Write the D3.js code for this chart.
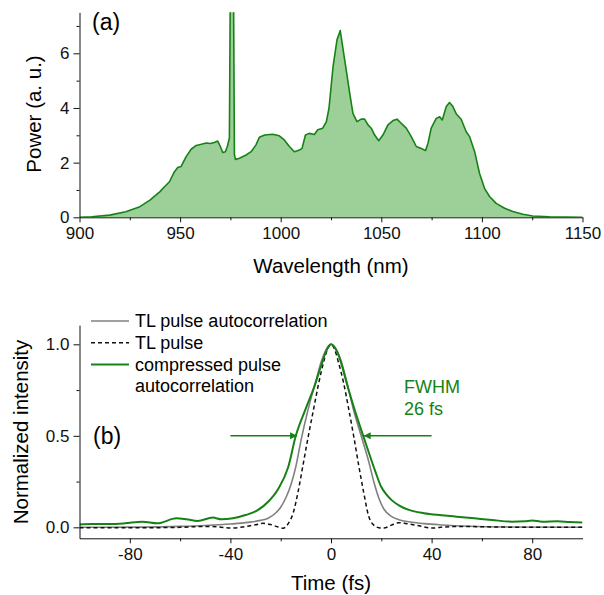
<!DOCTYPE html>
<html>
<head>
<meta charset="utf-8">
<script src="https://cdn.jsdelivr.net/npm/d3@7"></script>
<style>
  body { margin: 0; background: #fff; }
  svg { font-family: "Liberation Sans", Arial, sans-serif; }
</style>
</head>
<body>
<script>
const WIDTH = 604;
const HEIGHT = 595;
const GREEN = "#168216";
const FILL = "#9dcf98";

// panel (a): spectrum
const wavelength = [900, 906, 915, 923, 930, 935, 940, 942, 944.7, 947.2, 948.8, 950.5, 953, 955.5, 958, 961, 963, 965, 967, 968.7,
  970, 971.2, 972.5, 973.5, 974.5, 975, 976.5, 977, 977.5, 979.5, 982.8, 985.3, 987.7, 989.4, 992, 996, 999.3, 1001.8, 1004.3,
  1006.8, 1009.3, 1010.6, 1012.3, 1014.2, 1016.7, 1018.4, 1020.9, 1022.7, 1024, 1026, 1028, 1029.6, 1031.8, 1034.3, 1035.9,
  1037.9, 1040, 1041.7, 1043.4, 1045, 1046.7, 1048.7, 1050.8, 1053.3, 1055.8, 1057.8, 1059.9, 1062.4, 1064.9, 1067.4, 1069.9,
  1072, 1073.2, 1074.8, 1077.3, 1079, 1080.3, 1082.3, 1083.9, 1085.6, 1087.3, 1089.7, 1092.2, 1093.9, 1096.4, 1098.8, 1101.3,
  1103.8, 1107.1, 1111.3, 1115.4, 1120.4, 1125.3, 1133.6, 1150];
const power = [0, 0.02, 0.08, 0.2, 0.39, 0.63, 0.94, 1.1, 1.3, 1.67, 1.82, 1.86, 2.22, 2.49, 2.63, 2.68, 2.72, 2.7, 2.74, 2.79,
  2.59, 2.37, 2.4, 2.6, 2.9, 9, 9, 2.3, 2.12, 2.16, 2.28, 2.4, 2.65, 2.93, 3.01, 3.04, 2.98, 2.83, 2.59,
  2.4, 2.46, 2.52, 3.01, 3.07, 3.03, 3.2, 3.26, 3.5, 3.99, 5.5, 6.5, 6.83, 5.76, 4.54, 3.8,
  3.5, 3.59, 3.59, 3.38, 3.26, 3.01, 2.8, 3.01, 3.38, 3.54, 3.59, 3.44, 3.26, 2.95, 2.59, 2.52,
  2.44, 2.71, 3.26, 3.62, 3.68, 3.56, 4.05, 4.2, 4.05, 3.78, 3.59, 3.13, 2.95, 2.4, 1.61, 1.06,
  0.76, 0.51, 0.33, 0.21, 0.11, 0.05, 0.02, 0];
const wlTicks = [900, 950, 1000, 1050, 1100, 1150];
const powerTicks = [0, 2, 4, 6];

// panel (b): autocorrelations
const timeTL = [-100, -80, -60, -50, -45, -40, -35, -30, -27, -24, -21, -19, -17, -15, -13, -11, -9, -7, -5, -3, -1.5, 0,
  1.5, 3, 5, 7, 9, 11, 13, 15, 17, 19, 21, 24, 27, 30, 35, 40, 45, 50, 60, 80, 100];
const tlPulse = [-0.003, -0.003, 0, 0.005, 0.003, -0.004, 0.002, 0.014, 0.022, 0.015, 0.002, -0.005, 0.02, 0.08, 0.2, 0.35, 0.5, 0.64, 0.78, 0.9, 0.97, 1,
  0.97, 0.9, 0.79, 0.65, 0.5, 0.34, 0.19, 0.06, 0.012, -0.002, -0.004, 0.012, 0.025, 0.02, 0.008, -0.004, 0.002, 0.005, 0.003, 0, 0];
const timeAC = [-100, -80, -60, -50, -40, -33, -28, -25, -22, -20, -18, -16, -14, -12, -9, -6, -4, -2, 0,
  2, 4, 6, 9, 12, 15, 17, 19, 21, 24, 27, 31, 37, 44, 55, 70, 100];
const tlAutocorr = [0, 0.001, 0.005, 0.01, 0.018, 0.027, 0.038, 0.05, 0.078, 0.11, 0.16, 0.23, 0.33, 0.47, 0.65, 0.8, 0.9, 0.97, 1,
  0.975, 0.91, 0.81, 0.64, 0.5, 0.36, 0.25, 0.16, 0.1, 0.06, 0.042, 0.03, 0.02, 0.013, 0.006, 0.002, 0];
const timeComp = [-100, -95, -88, -82, -75, -69, -61.5, -57.5, -53, -47, -43.6, -39, -34, -29, -25, -21, -17, -14, -10, -6.6, -4, -2, 0,
  2, 4, 6, 9, 12.8, 15, 17.5, 20, 22, 24, 27, 31, 37, 44, 50, 57, 64, 72, 77, 80, 84, 90, 95, 100];
const compressed = [0.016, 0.018, 0.018, 0.022, 0.031, 0.022, 0.049, 0.044, 0.035, 0.053, 0.044, 0.049, 0.067, 0.095, 0.14, 0.21, 0.33, 0.5, 0.65, 0.77, 0.88, 0.96, 1,
  0.97, 0.9, 0.8, 0.66, 0.5, 0.41, 0.31, 0.22, 0.18, 0.15, 0.12, 0.095, 0.077, 0.066, 0.058, 0.049, 0.04, 0.031, 0.033, 0.037, 0.031, 0.033, 0.029, 0.027];
const timeTicks = [-80, -40, 0, 40, 80];
const intensityTicks = [0, 0.5, 1];

const svg = d3
  .select("body")
  .append("svg")
  .attr("width", WIDTH)
  .attr("height", HEIGHT);

const defs = svg.append("defs");
defs
  .append("marker")
  .attr("id", "arrow")
  .attr("viewBox", "0 0 10 10")
  .attr("refX", 10)
  .attr("refY", 5)
  .attr("markerWidth", 10)
  .attr("markerHeight", 7)
  .attr("markerUnits", "userSpaceOnUse")
  .attr("orient", "auto")
  .append("path")
  .attr("d", "M0,0L10,5L0,10Z")
  .attr("fill", GREEN);

function drawAxes(g, x, y, xTicks, xMinor, yTicks, yMinor, fmtY) {
  const [x0, x1] = x.range();
  const [y0, y1] = y.range();
  g.append("g")
    .attr("transform", "translate(0," + y0 + ")")
    .call(d3.axisBottom(x).tickValues(xMinor).tickSize(3).tickFormat(""))
    .call(a => a.select(".domain").remove());
  g.append("g")
    .attr("transform", "translate(" + x0 + ",0)")
    .call(d3.axisLeft(y).tickValues(yMinor).tickSize(3).tickFormat(""))
    .call(a => a.select(".domain").remove());
  g.append("g")
    .attr("class", "xAxis")
    .attr("transform", "translate(0," + y0 + ")")
    .call(d3.axisBottom(x).tickValues(xTicks).tickSize(5).tickSizeOuter(0).tickPadding(5).tickFormat(d => String(d)));
  g.append("g")
    .attr("class", "yAxis")
    .attr("transform", "translate(" + x0 + ",0)")
    .call(d3.axisLeft(y).tickValues(yTicks).tickSize(6).tickSizeOuter(0).tickPadding(4).tickFormat(fmtY));
  g.selectAll(".tick text").attr("font-size", 17).attr("fill", "#111").attr("font-family", null);
  g.selectAll(".domain, .tick line").attr("stroke", "#111");
}

// ---------- panel (a)
const xA = d3.scaleLinear().domain([900, 1150]).range([79.5, 582.5]);
const yA = d3.scaleLinear().domain([0, 7.5]).range([217.3, 12.3]);
const spec = wavelength.map((w, i) => [w, power[i]]);

defs
  .append("clipPath")
  .attr("id", "clipA")
  .append("rect")
  .attr("x", xA(900))
  .attr("y", yA(7.5))
  .attr("width", xA(1150) - xA(900))
  .attr("height", yA(0) - yA(7.5));

const gA = svg.append("g");
const plotA = gA.append("g").attr("clip-path", "url(#clipA)");
plotA
  .append("path")
  .datum(spec)
  .attr("fill", FILL)
  .attr("d", d3.area().x(d => xA(d[0])).y0(yA(0)).y1(d => yA(d[1])));
plotA
  .append("path")
  .datum(spec)
  .attr("fill", "none")
  .attr("stroke", GREEN)
  .attr("stroke-width", 1.6)
  .attr("stroke-linejoin", "round")
  .attr("d", d3.line().x(d => xA(d[0])).y(d => yA(d[1])));

drawAxes(gA, xA, yA, wlTicks, [925, 975, 1025, 1075, 1125], powerTicks, [1, 3, 5, 7], d => String(d));

gA.append("text")
  .attr("x", 92)
  .attr("y", 30)
  .attr("font-size", 23)
  .text("(a)");
gA.append("text")
  .attr("transform", "translate(41,114) rotate(-90)")
  .attr("text-anchor", "middle")
  .attr("font-size", 20.5)
  .text("Power (a. u.)");
gA.append("text")
  .attr("x", 331)
  .attr("y", 273)
  .attr("text-anchor", "middle")
  .attr("font-size", 20.5)
  .text("Wavelength (nm)");

// ---------- panel (b)
const xB = d3.scaleLinear().domain([-100, 100]).range([79.5, 582.5]);
const yB = d3.scaleLinear().domain([-0.06, 1.105]).range([538.3, 325.1]);

defs
  .append("clipPath")
  .attr("id", "clipB")
  .append("rect")
  .attr("x", xB(-100))
  .attr("y", yB(1.105))
  .attr("width", xB(100) - xB(-100))
  .attr("height", yB(-0.06) - yB(1.105));

const gB = svg.append("g");
const plotB = gB.append("g").attr("clip-path", "url(#clipB)");
const lineB = d3.line().x(d => xB(d[0])).y(d => yB(d[1])).curve(d3.curveMonotoneX);

const series = [
  { t: timeAC, v: tlAutocorr, color: "#808080", width: 1.6, dash: null },
  { t: timeTL, v: tlPulse, color: "#111", width: 1.5, dash: "4,3" },
  { t: timeComp, v: compressed, color: GREEN, width: 2, dash: null }
];

series.forEach(s => {
  plotB
    .append("path")
    .datum(s.t.map((t, i) => [t, s.v[i]]))
    .attr("fill", "none")
    .attr("stroke", s.color)
    .attr("stroke-width", s.width)
    .attr("stroke-dasharray", s.dash)
    .attr("d", lineB);
});

drawAxes(gB, xB, yB, timeTicks, [-60, -20, 20, 60], intensityTicks, [0.25, 0.75], d3.format(".1f"));

// FWHM arrows
[[-40, -13.5], [40, 13]].forEach(([from, to]) => {
  gB.append("line")
    .attr("x1", xB(from))
    .attr("x2", xB(to))
    .attr("y1", yB(0.5))
    .attr("y2", yB(0.5))
    .attr("stroke", GREEN)
    .attr("stroke-width", 1.6)
    .attr("marker-end", "url(#arrow)");
});

gB.append("text")
  .attr("x", 404)
  .attr("y", 393)
  .attr("fill", GREEN)
  .attr("font-size", 18)
  .text("FWHM");
gB.append("text")
  .attr("x", 404)
  .attr("y", 415)
  .attr("fill", GREEN)
  .attr("font-size", 18)
  .text("26 fs");

gB.append("text")
  .attr("x", 93)
  .attr("y", 444)
  .attr("font-size", 23)
  .text("(b)");

// legend
const legendRows = [
  { label: ["TL pulse autocorrelation"], s: series[0] },
  { label: ["TL pulse"], s: series[1] },
  { label: ["compressed pulse", "autocorrelation"], s: series[2] }
];
let rowY = 321;
legendRows.forEach(r => {
  gB.append("line")
    .attr("x1", 91)
    .attr("x2", 129)
    .attr("y1", rowY)
    .attr("y2", rowY)
    .attr("stroke", r.s.color)
    .attr("stroke-width", r.s.width)
    .attr("stroke-dasharray", r.s.dash);
  r.label.forEach(txt => {
    gB.append("text")
      .attr("x", 135)
      .attr("y", rowY + 6)
      .attr("font-size", 18)
      .text(txt);
    rowY += 21.8;
  });
});

gB.append("text")
  .attr("transform", "translate(28,432) rotate(-90)")
  .attr("text-anchor", "middle")
  .attr("font-size", 20.5)
  .text("Normalized intensity");
gB.append("text")
  .attr("x", 331)
  .attr("y", 590)
  .attr("text-anchor", "middle")
  .attr("font-size", 20.5)
  .text("Time (fs)");
</script>
</body>
</html>
